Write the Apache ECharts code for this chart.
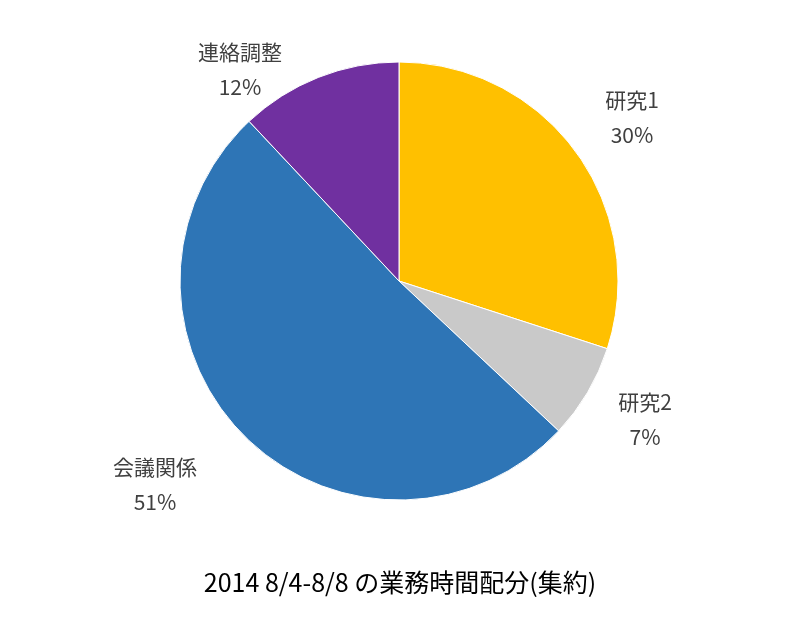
<!DOCTYPE html>
<html><head><meta charset="utf-8">
<script src="https://cdn.jsdelivr.net/npm/echarts@6/dist/echarts.min.js"></script>
<style>html,body{margin:0;background:#fff}</style>
</head><body>
<div id="chart" style="width:800px;height:628px"></div>
<script>
// 業務時間配分データ
const names = ['研究1', '研究2', '会議関係', '連絡調整'];
const values = [30, 7, 51, 12];
const colors = ['#FFC000', '#C9C9C9', '#2E75B6', '#7030A0'];
// ラベルの中心位置
const labelPos = [[632, 118], [645, 420], [155, 485], [240, 70]];

const chart = echarts.init(document.getElementById('chart'));
chart.setOption({
    title: {
        text: '2014 8/4-8/8 の業務時間配分(集約)',
        left: 'center',
        top: 565,
        textStyle: { fontFamily: 'Noto Sans CJK JP', fontSize: 25, fontWeight: 'normal', color: '#000' }
    },
    series: [{
        type: 'pie',
        center: [399, 281],
        radius: 219,
        startAngle: 90,
        clockwise: true,
        animation: false,
        itemStyle: { borderColor: '#fff', borderWidth: 1 },
        label: {
            show: true,
            position: 'outside',
            formatter: '{b}\n{c}%',
            fontFamily: 'Noto Sans CJK JP',
            fontSize: 21,
            lineHeight: 35,
            color: '#404040',
            align: 'center'
        },
        labelLine: { show: false },
        labelLayout: p => ({
            x: labelPos[p.dataIndex][0],
            y: labelPos[p.dataIndex][1],
            align: 'center',
            verticalAlign: 'middle'
        }),
        data: names.map((n, i) => ({ name: n, value: values[i], itemStyle: { color: colors[i] } }))
    }]
});
</script>
</body></html>
